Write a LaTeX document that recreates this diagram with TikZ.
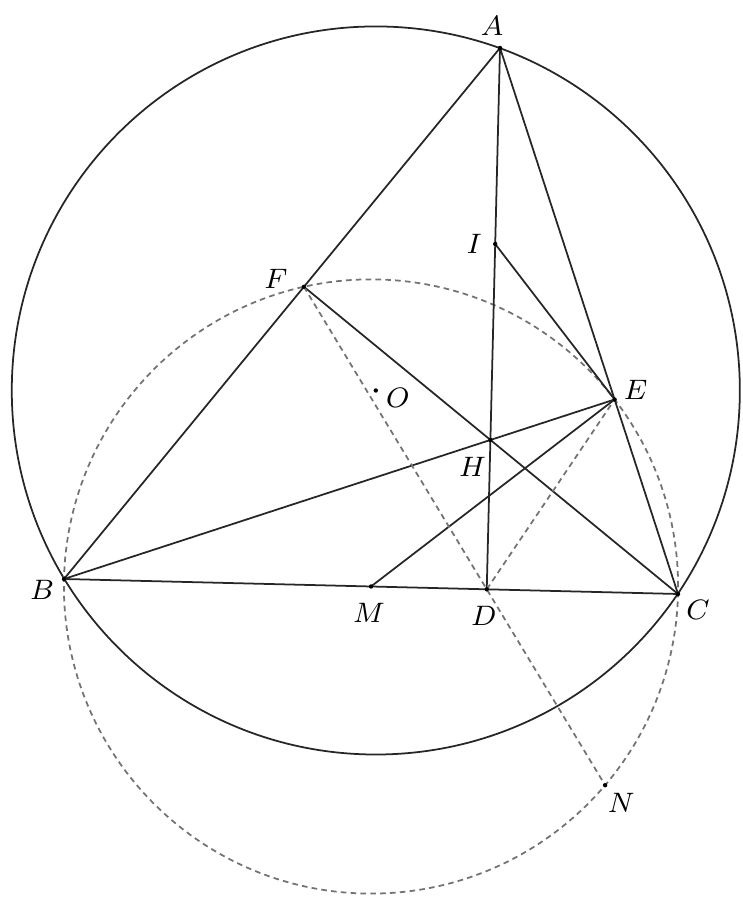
\documentclass[tikz,border=0pt]{standalone}
\usepackage{amsmath,amssymb}
\usepackage{xcolor}
\usepackage{tikz}
\usetikzlibrary{calc}

\tikzset{
  seg/.style={line width=0.5pt, black!85},
  aux/.style={line width=0.5pt, gray!90!black, dash pattern=on 1.6pt off 1.2pt},
  lbl/.style={font=\footnotesize, inner sep=0pt}
}

\begin{document}
\begin{tikzpicture}
\useasboundingbox (0,0) rectangle (7.42,8.99);
% triangle and the points built from it
\coordinate (A) at (5.00,8.51);
\coordinate (B) at (0.64,3.20);
\coordinate (C) at (6.78,3.05);
\coordinate (D) at ($(B)!(A)!(C)$);
\coordinate (E) at ($(A)!(B)!(C)$);
\coordinate (F) at ($(A)!(C)!(B)$);
\coordinate (H) at (intersection of A--D and B--E);
\coordinate (I) at ($(A)!0.5!(H)$);
\coordinate (M) at ($(B)!0.5!(C)$);
\coordinate (O) at ($0.5*(A)+0.5*(B)+0.5*(C)-0.5*(H)$);
\coordinate (P) at ($(F)!(M)!(D)$);
\coordinate (N) at ($(F)!2!(P)$);
% circles
\draw[seg] let \p1=($(A)-(O)$), \n1={veclen(\x1,\y1)} in (O) circle (\n1);
\draw[aux] let \p1=($(B)-(M)$), \n1={veclen(\x1,\y1)} in (M) circle (\n1);
% lines
\draw[seg] (A)--(B)--(C)--cycle;
\draw[seg] (A)--(D);
\draw[seg] (B)--(E);
\draw[seg] (C)--(F);
\draw[seg] (I)--(E);
\draw[seg] (M)--(E);
\draw[aux] (F)--(N);
\draw[aux] (D)--(E);
% dots
\fill (A) circle (0.022);
\fill (B) circle (0.022);
\fill (C) circle (0.022);
\fill (D) circle (0.022);
\fill (E) circle (0.022);
\fill (F) circle (0.022);
\fill (H) circle (0.022);
\fill (I) circle (0.022);
\fill (M) circle (0.022);
\fill (N) circle (0.022);
\fill (O) circle (0.022);
% labels
\node[lbl] (lA) at ($(A)+(-0.08,0.22)$) {$A$};
\node[lbl] (lB) at ($(B)+(-0.22,-0.11)$) {$B$};
\node[lbl] (lC) at ($(C)+(0.20,-0.16)$) {$C$};
\node[lbl] (lD) at ($(D)+(-0.03,-0.27)$) {$D$};
\node[lbl] (lE) at ($(E)+(0.21,0.10)$) {$E$};
\node[lbl] (lF) at ($(F)+(-0.28,0.08)$) {$F$};
\node[lbl] (lH) at ($(H)+(-0.18,-0.27)$) {$H$};
\node[lbl] (lI) at ($(I)+(-0.21,0.00)$) {$I$};
\node[lbl] (lM) at ($(M)+(-0.02,-0.26)$) {$M$};
\node[lbl] (lN) at ($(N)+(0.16,-0.18)$) {$N$};
\node[lbl] (lO) at ($(O)+(0.22,-0.07)$) {$O$};
%
\end{tikzpicture}
\end{document}
